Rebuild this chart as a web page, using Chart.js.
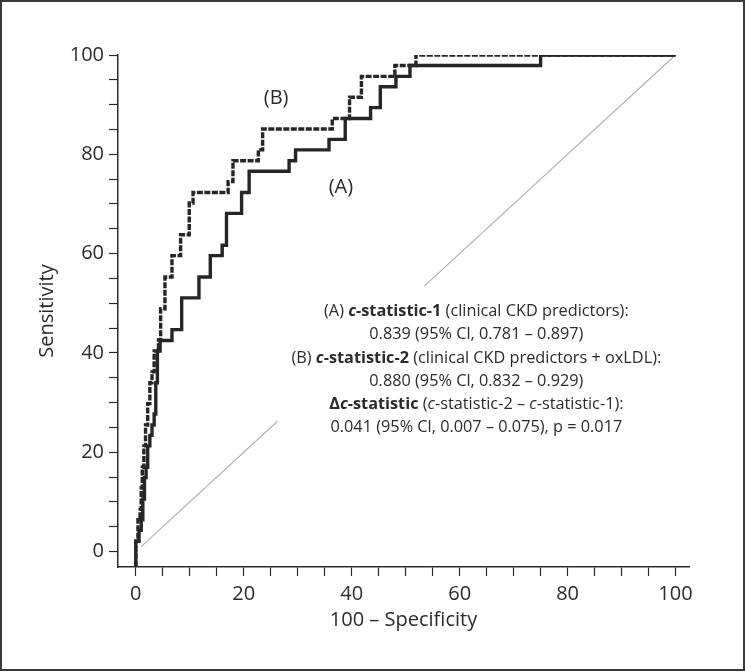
<!DOCTYPE html>
<html>
<head>
<meta charset="utf-8">
<script src="https://cdn.jsdelivr.net/npm/chart.js@4.4.1/dist/chart.umd.min.js"></script>
<style>
  html, body { margin: 0; padding: 0; background: #fff; }
  #wrap { width: 745px; height: 672px; position: relative; }
</style>
</head>
<body>
<div id="wrap"><canvas id="roc" width="745" height="672"></canvas></div>
<script>
// ================= Data =================
// each point is where the step curve rises to a new sensitivity (%)
const fprA = [0, 0, 0.6, 1.0, 1.3, 1.6, 1.9, 2.2, 2.6, 3.0, 3.4, 3.7, 4.0, 4.5, 6.7, 8.5, 11.7, 13.8, 16.0, 16.8,
  19.6, 21.0, 28.4, 29.6, 35.8, 38.8, 43.5, 45.3, 48.2, 50.8, 75.0, 100];
const tprA = [-3, 2.1, 4.3, 6.4, 10.6, 14.9, 17.0, 21.3, 23.4, 25.5, 27.7, 34.0, 40.4, 42.5, 44.7, 51.1, 55.3, 59.6, 61.7, 68.1,
  72.3, 76.6, 78.7, 80.9, 83.0, 87.2, 89.4, 93.6, 95.7, 97.9, 100, 100];

const fprB = [0, 0, 0.4, 0.8, 1.0, 1.2, 1.5, 1.8, 2.2, 2.6, 3.0, 3.4, 4.2, 4.6, 5.4, 6.7, 8.3, 9.9, 10.6, 17.1,
  18.0, 22.7, 23.5, 36.4, 39.6, 41.8, 48.0, 51.9, 100];
const tprB = [-3, 2.1, 6.4, 8.5, 12.8, 17.0, 21.3, 25.5, 29.8, 34.0, 36.2, 40.4, 42.6, 48.9, 55.3, 59.6, 63.8, 70.2, 72.3, 74.5,
  78.7, 80.9, 85.1, 87.2, 91.5, 95.7, 97.9, 100, 100];

// chance line, broken where the statistics text sits
const diagX = [1, 26.3, 40, 53.5, 100];
const diagY = [1, 26.3, null, 53.5, 100];

const xTicks = [0, 5, 10, 15, 20, 25, 30, 35, 40, 45, 50, 55, 60, 65, 70, 75, 80, 85, 90, 95, 100];
const yTicks = [0, 5, 10, 15, 20, 25, 30, 35, 40, 45, 50, 55, 60, 65, 70, 75, 80, 85, 90, 95, 100];

const curveLabels = [
  { text: '(A)', x: 38.0, y: 73.3 },
  { text: '(B)', x: 26.0, y: 91.2 }
];

// runs: [text, style]  style: n normal, b bold, bi bold italic, i italic
const statLines = [
  [['(A) ', 'n'], ['c', 'bi'], ['-statistic-1', 'b'], [' (clinical CKD predictors):', 'n']],
  [['0.839 (95% Cl, 0.781 – 0.897)', 'n']],
  [['(B) ', 'n'], ['c', 'bi'], ['-statistic-2', 'b'], [' (clinical CKD predictors + oxLDL):', 'n']],
  [['0.880 (95% Cl, 0.832 – 0.929)', 'n']],
  [['Δ', 'b'], ['c', 'bi'], ['-statistic', 'b'], [' (', 'n'], ['c', 'i'], ['-statistic-2 – ', 'n'], ['c', 'i'], ['-statistic-1):', 'n']],
  [['0.041 (95% Cl, 0.007 – 0.075), p = 0.017', 'n']]
];
const statX = 63.1;
const statY = [48.3, 43.75, 38.98, 34.35, 29.68, 25.03];

// ================= Chart =================
const INK = '#262626';
const TXT = '#2b2b2b';
const FAMILY = '"Open Sans", "Noto Sans", sans-serif';

const toPoints = (xs, ys) => xs.map((x, i) => ({ x: x, y: ys[i] }));

function fontFor(style, size) {
  if (style === 'b') return `bold ${size}px ${FAMILY}`;
  if (style === 'bi') return `italic bold ${size}px ${FAMILY}`;
  if (style === 'i') return `italic ${size}px ${FAMILY}`;
  return `${size}px ${FAMILY}`;
}

const textPlugin = {
  id: 'rocText',
  afterDraw(chart) {
    const { ctx, scales: { x, y } } = chart;
    ctx.save();
    ctx.fillStyle = TXT;
    ctx.textBaseline = 'middle';

    curveLabels.forEach(l => {
      ctx.font = fontFor('n', 20);
      ctx.textAlign = 'center';
      ctx.fillText(l.text, x.getPixelForValue(l.x), y.getPixelForValue(l.y));
    });

    ctx.textAlign = 'left';
    statLines.forEach((runs, i) => {
      let total = 0;
      runs.forEach(r => { ctx.font = fontFor(r[1], 16.3); total += ctx.measureText(r[0]).width; });
      let cx = x.getPixelForValue(statX) - total / 2;
      const cy = y.getPixelForValue(statY[i]);
      runs.forEach(r => {
        ctx.font = fontFor(r[1], 16.3);
        ctx.fillText(r[0], cx, cy);
        cx += ctx.measureText(r[0]).width;
      });
    });

    // outer frame
    ctx.strokeStyle = '#3a3a3a';
    ctx.lineWidth = 2;
    ctx.strokeRect(1, 1, 743, 669);
    ctx.restore();
  }
};

const tickFont = { family: FAMILY, size: 20 };

new Chart(document.getElementById('roc').getContext('2d'), {
  type: 'line',
  data: {
    datasets: [
      {
        label: 'A',
        data: toPoints(fprA, tprA),
        stepped: 'before',
        borderColor: INK,
        borderWidth: 3.4,
        pointRadius: 0,
        fill: false
      },
      {
        label: 'B',
        data: toPoints(fprB, tprB),
        stepped: 'before',
        borderColor: INK,
        borderWidth: 3.4,
        borderDash: [6, 1.5],
        pointRadius: 0,
        fill: false
      },
      {
        label: 'reference',
        data: toPoints(diagX, diagY),
        borderColor: '#b0b0b0',
        borderWidth: 1.2,
        pointRadius: 0,
        spanGaps: false,
        fill: false
      }
    ]
  },
  options: {
    responsive: false,
    animation: false,
    layout: { padding: { top: 55, right: 56, left: 0, bottom: 0 } },
    plugins: { legend: { display: false }, tooltip: { enabled: false } },
    scales: {
      x: {
        type: 'linear',
        min: -3.3,
        max: 102.5,
        afterFit: s => { s.height = 105; },
        afterBuildTicks: s => { s.ticks = xTicks.map(v => ({ value: v })); },
        ticks: {
          autoSkip: false,
          maxRotation: 0,
          padding: 6,
          color: TXT,
          font: tickFont,
          callback: v => (v % 20 === 0 ? v : '')
        },
        grid: { drawOnChartArea: false, tickLength: 9, tickColor: TXT, tickWidth: 1.2 },
        border: { color: TXT, width: 1.5 },
        title: {
          display: true,
          text: '100 – Specificity',
          color: TXT,
          font: tickFont,
          padding: { top: 0, bottom: 40 }
        }
      },
      y: {
        type: 'linear',
        min: -3.1,
        max: 100,
        afterFit: s => { s.width = 118; },
        afterBuildTicks: s => { s.ticks = yTicks.map(v => ({ value: v })); },
        ticks: {
          autoSkip: false,
          padding: 5,
          color: TXT,
          font: tickFont,
          callback: v => (v % 20 === 0 ? v : '')
        },
        grid: { drawOnChartArea: false, tickLength: 9, tickColor: TXT, tickWidth: 1.2 },
        border: { color: TXT, width: 1.5 },
        title: {
          display: true,
          text: 'Sensitivity',
          color: TXT,
          font: tickFont,
          padding: { top: 35, bottom: 0 }
        }
      }
    }
  },
  plugins: [textPlugin]
});
</script>
</body>
</html>
